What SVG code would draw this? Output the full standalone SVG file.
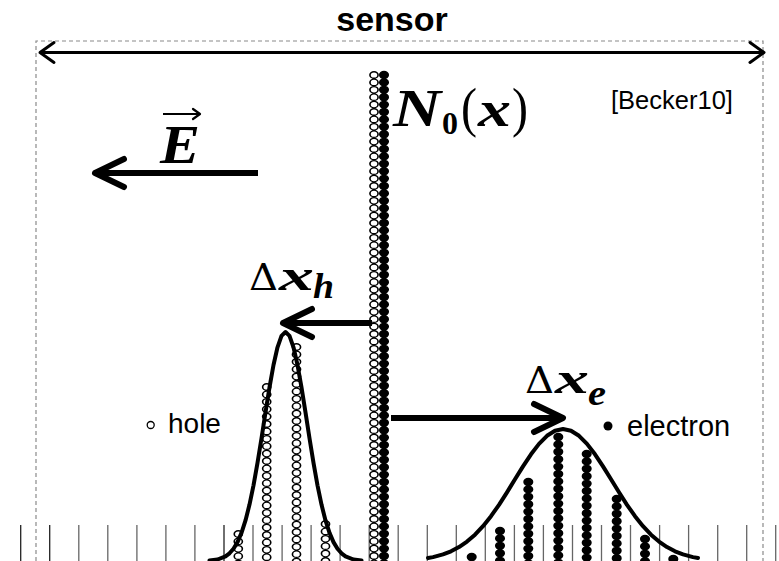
<svg xmlns="http://www.w3.org/2000/svg" width="779" height="561" viewBox="0 0 779 561">
<style>
.sans{font-family:"Liberation Sans",Arial,sans-serif;fill:#000}
.mi{font-family:"Liberation Serif","Times New Roman",serif;font-weight:bold;font-style:italic;fill:#000}
.mr{font-family:"DejaVu Serif","Liberation Serif",serif;fill:#000}
.lsr{font-family:"Liberation Serif","Times New Roman",serif;fill:#000}
.tick{stroke:#666;stroke-width:1.3}
.curve{fill:none;stroke:#000;stroke-width:4;stroke-linejoin:round;stroke-linecap:round}
.thick{stroke:#000;stroke-width:6;fill:none}
.hb{stroke:#000;stroke-width:7.8;stroke-linecap:round;stroke-dasharray:0 7.4;fill:none}
.hw{stroke:#fff;stroke-width:5.2;stroke-linecap:round;stroke-dasharray:0 7.4;fill:none}
.fb{stroke:#000;stroke-width:8.4;stroke-linecap:round;stroke-dasharray:0 7.4;fill:none}
</style>
<defs>
<marker id="chev" markerUnits="userSpaceOnUse" markerWidth="40" markerHeight="40" viewBox="-35 -20 40 40" refX="0" refY="0" orient="auto" overflow="visible">
<path d="M-29,-14 L0,0 L-29,14" fill="none" stroke="#000" stroke-width="6" stroke-linecap="round" stroke-linejoin="round"/>
</marker>
<marker id="chevs" markerUnits="userSpaceOnUse" markerWidth="30" markerHeight="30" viewBox="-20 -15 30 30" refX="0" refY="0" orient="auto-start-reverse" overflow="visible">
<path d="M-14,-10 L0,0 L-14,10" fill="none" stroke="#000" stroke-width="3" stroke-linecap="round" stroke-linejoin="round"/>
</marker>
<marker id="chevt" markerUnits="userSpaceOnUse" markerWidth="20" markerHeight="20" viewBox="-10 -10 20 20" refX="0" refY="0" orient="auto" overflow="visible">
<path d="M-7,-5 L0,0 L-7,5" fill="none" stroke="#000" stroke-width="2.2" stroke-linecap="round" stroke-linejoin="round"/>
</marker>
</defs>
<rect width="779" height="561" fill="#fff"/>

<g id="boundary">
<path d="M36,561 V41 H763 V561" fill="none" stroke="#8a8a8a" stroke-width="1.2" stroke-dasharray="4 3"/>
</g>

<g id="ticks">
<line class="tick" x1="20.7" y1="525" x2="20.7" y2="561" style="stroke:#222"/>
<line class="tick" x1="49.7" y1="525" x2="49.7" y2="561" style="stroke:#222"/>
<line class="tick" x1="78.8" y1="525" x2="78.8" y2="561"/>
<line class="tick" x1="107.8" y1="525" x2="107.8" y2="561"/>
<line class="tick" x1="136.9" y1="525" x2="136.9" y2="561"/>
<line class="tick" x1="165.9" y1="525" x2="165.9" y2="561"/>
<line class="tick" x1="194.9" y1="525" x2="194.9" y2="561"/>
<line class="tick" x1="224" y1="525" x2="224" y2="561" style="stroke:#222"/>
<line class="tick" x1="253" y1="525" x2="253" y2="561"/>
<line class="tick" x1="282.1" y1="525" x2="282.1" y2="561"/>
<line class="tick" x1="311.1" y1="525" x2="311.1" y2="561"/>
<line class="tick" x1="340.1" y1="525" x2="340.1" y2="561"/>
<line class="tick" x1="369.2" y1="525" x2="369.2" y2="561"/>
<line class="tick" x1="398.2" y1="525" x2="398.2" y2="561"/>
<line class="tick" x1="427.3" y1="525" x2="427.3" y2="561"/>
<line class="tick" x1="456.3" y1="525" x2="456.3" y2="561"/>
<line class="tick" x1="485.3" y1="525" x2="485.3" y2="561"/>
<line class="tick" x1="514.4" y1="525" x2="514.4" y2="561"/>
<line class="tick" x1="543.4" y1="525" x2="543.4" y2="561"/>
<line class="tick" x1="572.5" y1="525" x2="572.5" y2="561"/>
<line class="tick" x1="601.5" y1="525" x2="601.5" y2="561"/>
<line class="tick" x1="630.5" y1="525" x2="630.5" y2="561"/>
<line class="tick" x1="659.6" y1="525" x2="659.6" y2="561"/>
<line class="tick" x1="688.6" y1="525" x2="688.6" y2="561"/>
<line class="tick" x1="717.7" y1="525" x2="717.7" y2="561"/>
<line class="tick" x1="746.7" y1="525" x2="746.7" y2="561"/>
<line class="tick" x1="775.7" y1="525" x2="775.7" y2="561"/>
</g>

<g id="sensor-label">
<text class="sans" x="392" y="31" font-size="34" font-weight="bold" text-anchor="middle">sensor</text>
</g>

<g id="citation">
<text class="sans" x="611" y="109" font-size="25.5">[Becker10]</text>
</g>

<g id="central-column">
<g transform="translate(374,0) scale(1.25,1)">
<line class="hb" x1="0" y1="75" x2="0" y2="570"/>
<line class="hw" x1="0" y1="75" x2="0" y2="570"/>
</g>
<g transform="translate(384,0) scale(1.2,1)">
<line class="fb" x1="0" y1="75" x2="0" y2="570"/>
</g>
</g>

<g id="n0-label">
<text class="mi" x="393" y="126" font-size="52" textLength="48" lengthAdjust="spacingAndGlyphs">N</text>
<text class="lsr" x="442" y="134" font-size="32" font-weight="bold" textLength="16" lengthAdjust="spacingAndGlyphs">0</text>
<text class="lsr" x="461" y="126" font-size="54" textLength="16" lengthAdjust="spacingAndGlyphs">(</text>
<text class="mi" x="478" y="126" font-size="50" textLength="33" lengthAdjust="spacingAndGlyphs">x</text>
<text class="lsr" x="512" y="126" font-size="54" textLength="16" lengthAdjust="spacingAndGlyphs">)</text>
</g>

<g id="e-field">
<text class="mi" x="160" y="163" font-size="54" textLength="40" lengthAdjust="spacingAndGlyphs">E</text>
<line x1="163" y1="114" x2="200" y2="114" stroke="#000" stroke-width="2.2" marker-end="url(#chevt)"/>
</g>

<g id="hole-distribution">
<g transform="translate(238.3,0) scale(1.25,1)"><line class="hb" x1="0" y1="534" x2="0" y2="570"/><line class="hw" x1="0" y1="534" x2="0" y2="570"/></g>
<g transform="translate(266.7,0) scale(1.25,1)"><line class="hb" x1="0" y1="387" x2="0" y2="570"/><line class="hw" x1="0" y1="387" x2="0" y2="570"/></g>
<g transform="translate(296.5,0) scale(1.25,1)"><line class="hb" x1="0" y1="347" x2="0" y2="570"/><line class="hw" x1="0" y1="347" x2="0" y2="570"/></g>
<g transform="translate(325.5,0) scale(1.25,1)"><line class="hb" x1="0" y1="524" x2="0" y2="570"/><line class="hw" x1="0" y1="524" x2="0" y2="570"/></g>
<polyline class="curve" points="209.5,560.5 217.5,559.5 225.5,556.3 229.5,553.3 233.5,548.7 237.5,542.1 241.5,532.8 245.5,520.4 249.5,504.6 253.5,485.3 257.5,462.9 261.5,438.2 265.5,412.4 269.5,387.4 273.5,365 277.5,347.3 281.5,335.9 285.5,332 289.5,335.9 293.5,347.3 297.5,365 301.5,387.4 305.5,412.4 309.5,438.2 313.5,462.9 317.5,485.3 321.5,504.6 325.5,520.4 329.5,532.8 333.5,542.1 337.5,548.7 341.5,553.3 345.5,556.3 353.5,559.5 361.5,560.5"/>
</g>

<g id="electron-distribution">
<g transform="translate(471.7,0) scale(1.2,1)"><line class="fb" x1="0" y1="557" x2="0" y2="570"/></g>
<g transform="translate(500,0) scale(1.2,1)"><line class="fb" x1="0" y1="531" x2="0" y2="570"/></g>
<g transform="translate(528.3,0) scale(1.2,1)"><line class="fb" x1="0" y1="482" x2="0" y2="570"/></g>
<g transform="translate(558.3,0) scale(1.2,1)"><line class="fb" x1="0" y1="437" x2="0" y2="570"/></g>
<g transform="translate(586.7,0) scale(1.2,1)"><line class="fb" x1="0" y1="454" x2="0" y2="570"/></g>
<g transform="translate(616.7,0) scale(1.2,1)"><line class="fb" x1="0" y1="499" x2="0" y2="570"/></g>
<g transform="translate(645,0) scale(1.2,1)"><line class="fb" x1="0" y1="539" x2="0" y2="570"/></g>
<g transform="translate(673.3,0) scale(1.2,1)"><line class="fb" x1="0" y1="559" x2="0" y2="570"/></g>
<polyline class="curve" points="428,558 433,557.1 443,554.4 451,551.3 459,547.1 467,541.6 475,534.7 483,526.2 491,516.2 499,504.8 507,492.3 515,479.3 523,466.4 531,454.3 539,443.9 547,435.8 555,430.7 563,429 571,430.7 579,435.8 587,443.9 595,454.3 603,466.4 611,479.3 619,492.3 627,504.8 635,516.2 643,526.2 651,534.7 659,541.6 667,547.1 675,551.3 683,554.4 693,557.1 698,558"/>
</g>

<g id="dxh-label">
<text class="mr" x="249" y="290" font-size="38" textLength="29" lengthAdjust="spacingAndGlyphs">Δ</text>
<text class="mi" x="279" y="290" font-size="44" textLength="35" lengthAdjust="spacingAndGlyphs">x</text>
<text class="mi" x="313" y="298" font-size="36" textLength="21" lengthAdjust="spacingAndGlyphs">h</text>
</g>

<g id="dxe-label">
<text class="mr" x="525" y="393" font-size="38" textLength="29" lengthAdjust="spacingAndGlyphs">Δ</text>
<text class="mi" x="555" y="393" font-size="44" textLength="34" lengthAdjust="spacingAndGlyphs">x</text>
<text class="mi" x="588" y="405" font-size="36" textLength="18" lengthAdjust="spacingAndGlyphs">e</text>
</g>

<g id="legend-hole">
<circle cx="150.7" cy="425" r="3.5" fill="#fff" stroke="#000" stroke-width="1.3"/>
<text class="sans" x="168" y="433" font-size="28">hole</text>
</g>

<g id="legend-electron">
<circle cx="608" cy="426" r="4.5" fill="#000"/>
<text class="sans" x="627" y="436" font-size="29">electron</text>
</g>

<g id="connectors">
<line x1="40" y1="52.5" x2="764" y2="52.5" stroke="#000" stroke-width="3" marker-start="url(#chevs)" marker-end="url(#chevs)"/>
<line class="thick" x1="258" y1="173" x2="95" y2="173" marker-end="url(#chev)"/>
<line class="thick" x1="372" y1="323" x2="283" y2="323" marker-end="url(#chev)"/>
<line class="thick" x1="391" y1="418" x2="563" y2="418" marker-end="url(#chev)"/>
</g>
</svg>
